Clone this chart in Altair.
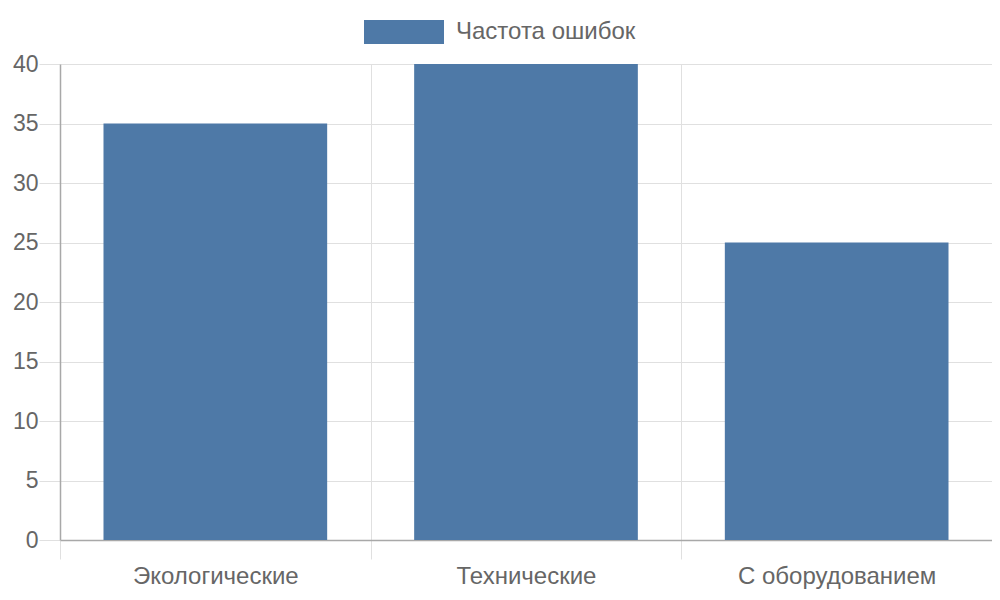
import altair as alt
import pandas as pd

categories = ["Экологические", "Технические", "С оборудованием"]
values = [35, 40, 25]
series_name = "Частота ошибок"

df = pd.DataFrame({"category": categories, "value": values, "series": [series_name] * len(categories)})

FONT = "Liberation Sans"
TEXT = "#666666"
GRID = "#e0e0e0"
AXIS = "#a8a8a8"

chart = alt.Chart(df).mark_bar(width={"band": 0.72}, color="#4e79a7").encode(
    x=alt.X(
        "category:N",
        sort=categories,
        scale=alt.Scale(paddingInner=0, paddingOuter=0),
        axis=alt.Axis(
            title=None,
            labelAngle=0,
            tickBand="extent",
            grid=True,
            gridColor=GRID,
            tickColor=GRID,
            tickSize=19,
            domainColor=AXIS,
            labelPadding=5,
            labelFontSize=24,
            labelLimit=400,
        ),
    ),
    y=alt.Y(
        "value:Q",
        scale=alt.Scale(domain=[0, 40], nice=False),
        axis=alt.Axis(
            title=None,
            values=[0, 5, 10, 15, 20, 25, 30, 35, 40],
            grid=True,
            gridColor=GRID,
            tickColor=GRID,
            tickSize=21,
            domainColor=AXIS,
            labelPadding=1,
            labelFontSize=23,
        ),
    ),
    color=alt.Color(
        "series:N",
        scale=alt.Scale(range=["#4e79a7"]),
        legend=alt.Legend(
            title=None,
            orient="none",
            legendX=304,
            legendY=-72,
            symbolType="M-1,-0.3L1,-0.3L1,0.3L-1,0.3Z",
            symbolSize=6400,
            symbolStrokeWidth=0,
            labelFontSize=24,
            labelFont=FONT,
            labelColor=TEXT,
            labelOffset=12,
            labelLimit=400,
        ),
    ),
).properties(
    width=932,
    height=476,
    autosize=alt.AutoSizeParams(type="none"),
    padding={"left": 52, "top": 56, "right": 0, "bottom": 52},
).configure_axis(
    labelFont=FONT,
    labelColor=TEXT,
    domainWidth=1.5,
).configure_view(
    stroke=None
)

chart.save("out.html", embed_options={"renderer": "svg", "actions": False})
